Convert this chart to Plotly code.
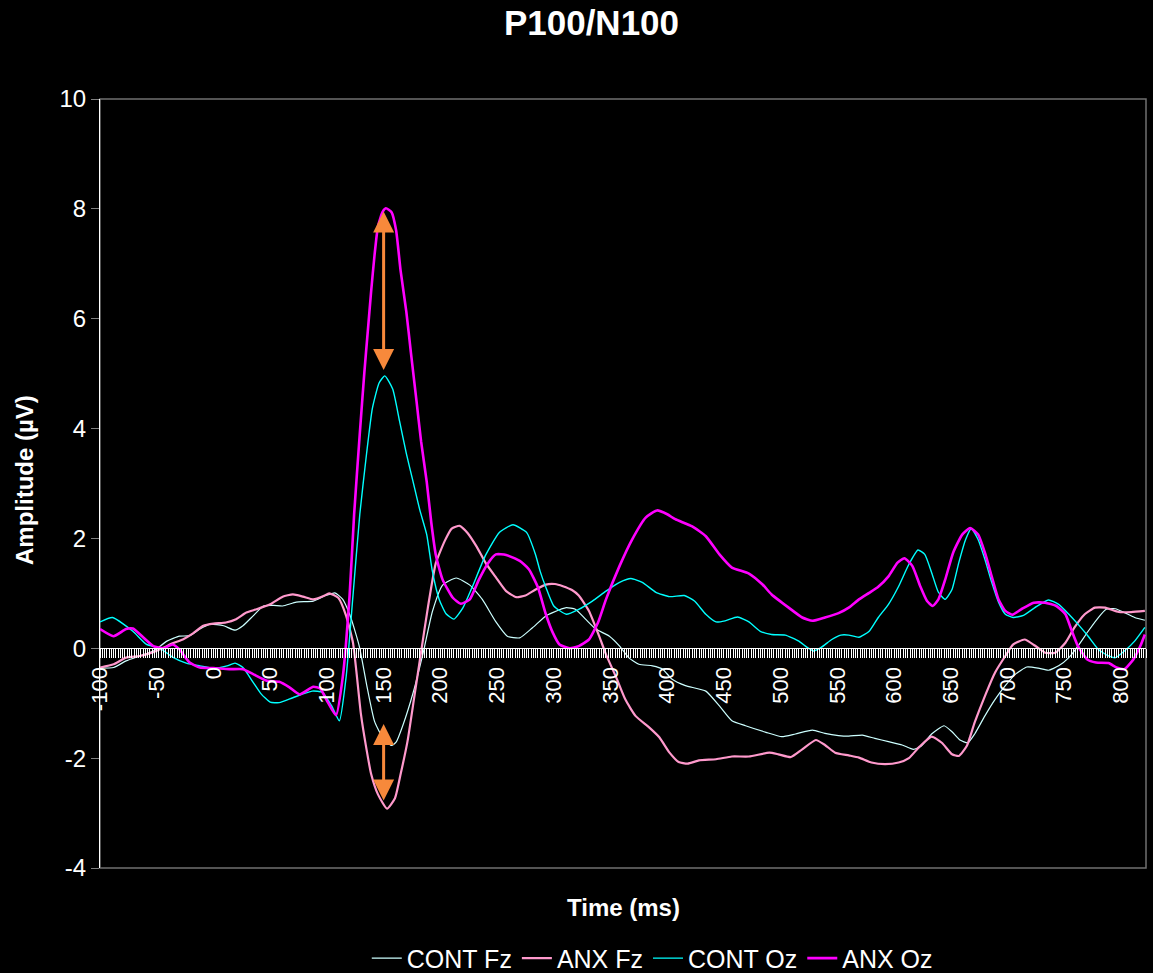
import plotly.graph_objects as go

# ---------------- data ----------------
cont_fz_t = [-100, -88, -77, -65, -53, -41, -30, -21, -12, -3, 9, 19, 26, 35, 44, 53, 61, 73, 88, 99, 107, 114, 120, 125, 129, 135, 142, 149, 157, 161, 167, 176, 185, 193, 202, 214, 226, 237, 249, 259, 270, 281, 293, 299, 311, 319, 328, 337, 349, 358, 366, 375, 387, 396, 404, 416, 434, 446, 457, 469, 487, 501, 513, 528, 539, 551, 560, 572, 583, 595, 607, 617, 624, 633, 644, 651, 658, 665, 671, 680, 689, 698, 707, 717, 727, 736, 745, 754, 762, 771, 780, 787, 795, 803, 812, 821]
cont_fz_v = [-0.36, -0.35, -0.23, -0.14, -0.05, 0.13, 0.22, 0.23, 0.35, 0.44, 0.41, 0.33, 0.41, 0.59, 0.77, 0.78, 0.77, 0.84, 0.86, 0.96, 1.01, 0.89, 0.62, 0.3, 0.0, -0.66, -1.33, -1.62, -1.77, -1.71, -1.4, -0.81, -0.07, 0.67, 1.15, 1.28, 1.15, 0.89, 0.48, 0.22, 0.19, 0.37, 0.59, 0.65, 0.74, 0.71, 0.53, 0.35, 0.22, 0.04, -0.17, -0.29, -0.32, -0.38, -0.56, -0.68, -0.78, -1.05, -1.32, -1.41, -1.53, -1.61, -1.56, -1.49, -1.55, -1.59, -1.6, -1.58, -1.64, -1.70, -1.76, -1.84, -1.78, -1.56, -1.41, -1.52, -1.67, -1.72, -1.56, -1.23, -0.93, -0.68, -0.47, -0.34, -0.36, -0.4, -0.32, -0.17, 0.04, 0.31, 0.56, 0.71, 0.72, 0.65, 0.56, 0.51]

anx_fz_t = [-100, -88, -77, -65, -53, -44, -36, -27, -18, -9, 0, 11, 20, 29, 38, 50, 61, 70, 79, 88, 97, 102, 110, 117, 123, 126, 130, 135, 139, 145, 153, 160, 165, 171, 177, 183, 189, 196, 204, 210, 217, 224, 232, 240, 249, 258, 267, 275, 284, 293, 301, 308, 316, 322, 331, 340, 346, 355, 363, 372, 384, 393, 402, 410, 418, 428, 443, 457, 472, 490, 498, 509, 519, 531, 539, 548, 560, 569, 580, 592, 604, 613, 622, 633, 642, 651, 657, 664, 671, 680, 689, 698, 705, 715, 724, 733, 742, 751, 759, 768, 777, 786, 798, 809, 821]
anx_fz_v = [-0.35, -0.29, -0.17, -0.14, -0.07, 0.01, 0.09, 0.16, 0.27, 0.41, 0.45, 0.47, 0.53, 0.65, 0.71, 0.8, 0.94, 0.98, 0.94, 0.89, 0.95, 1.0, 0.92, 0.59, 0.1, -0.42, -1.2, -1.85, -2.29, -2.66, -2.92, -2.73, -2.29, -1.7, -0.89, -0.07, 0.74, 1.55, 1.96, 2.18, 2.23, 2.1, 1.85, 1.55, 1.29, 1.04, 0.93, 0.96, 1.07, 1.16, 1.17, 1.13, 1.06, 0.96, 0.68, 0.22, -0.11, -0.53, -0.93, -1.23, -1.44, -1.62, -1.9, -2.07, -2.1, -2.04, -2.02, -1.97, -1.97, -1.9, -1.93, -1.98, -1.84, -1.67, -1.76, -1.9, -1.95, -1.99, -2.08, -2.11, -2.08, -2.0, -1.8, -1.61, -1.72, -1.93, -1.96, -1.78, -1.35, -0.87, -0.44, -0.14, 0.07, 0.16, 0.05, -0.08, -0.08, 0.1, 0.38, 0.62, 0.74, 0.74, 0.66, 0.66, 0.68]

cont_oz_t = [-100, -89, -71, -59, -47, -36, -24, -12, 0, 12, 19, 26, 35, 42, 50, 58, 70, 87, 96, 104, 111, 117, 123, 129, 135, 140, 146, 151, 158, 164, 170, 176, 182, 188, 193, 199, 205, 212, 220, 228, 240, 252, 264, 276, 284, 288, 293, 300, 311, 322, 334, 346, 358, 368, 378, 390, 402, 415, 424, 434, 443, 451, 462, 472, 482, 492, 504, 516, 523, 529, 536, 545, 553, 560, 569, 578, 586, 595, 604, 613, 621, 627, 633, 639, 645, 651, 657, 663, 668, 674, 680, 686, 692, 698, 705, 714, 724, 736, 745, 754, 762, 771, 780, 789, 795, 803, 812, 821]
cont_oz_v = [0.48, 0.56, 0.31, 0.07, 0.0, -0.16, -0.27, -0.32, -0.36, -0.32, -0.27, -0.35, -0.62, -0.83, -0.98, -0.99, -0.9, -0.78, -0.8, -1.04, -1.32, -0.51, 0.96, 2.44, 3.55, 4.36, 4.83, 4.96, 4.72, 4.14, 3.55, 3.03, 2.51, 2.07, 1.4, 0.89, 0.63, 0.53, 0.74, 1.11, 1.70, 2.11, 2.25, 2.11, 1.70, 1.4, 1.11, 0.77, 0.62, 0.71, 0.86, 1.04, 1.2, 1.27, 1.2, 1.02, 0.94, 0.96, 0.86, 0.62, 0.48, 0.5, 0.57, 0.48, 0.31, 0.25, 0.24, 0.13, 0.02, -0.05, 0.02, 0.16, 0.24, 0.24, 0.2, 0.31, 0.56, 0.8, 1.13, 1.53, 1.79, 1.71, 1.38, 1.02, 0.89, 1.07, 1.56, 1.98, 2.18, 1.98, 1.62, 1.2, 0.84, 0.62, 0.56, 0.6, 0.74, 0.88, 0.8, 0.62, 0.44, 0.22, -0.02, -0.14, -0.17, -0.05, 0.13, 0.38]

anx_oz_t = [-100, -88, -77, -71, -62, -53, -44, -36, -30, -21, -12, 0, 14, 26, 35, 47, 58, 67, 76, 88, 94, 101, 108, 114, 120, 124, 129, 133, 136, 139, 142, 145, 149, 152, 157, 161, 165, 170, 174, 179, 183, 188, 192, 196, 202, 211, 218, 226, 234, 242, 249, 258, 270, 278, 286, 293, 299, 305, 314, 322, 331, 339, 346, 358, 369, 381, 391, 400, 407, 422, 434, 446, 457, 472, 484, 492, 507, 519, 528, 539, 551, 560, 569, 578, 586, 595, 603, 609, 616, 623, 629, 634, 639, 645, 652, 660, 667, 674, 680, 686, 692, 698, 704, 712, 723, 733, 743, 751, 756, 762, 770, 778, 789, 796, 803, 811, 817, 821]
anx_oz_v = [0.35, 0.22, 0.35, 0.36, 0.2, 0.04, 0.0, 0.07, -0.02, -0.26, -0.35, -0.36, -0.38, -0.38, -0.47, -0.59, -0.61, -0.71, -0.84, -0.7, -0.73, -0.99, -1.22, -0.52, 0.96, 2.44, 3.91, 5.02, 5.76, 6.5, 7.16, 7.68, 7.94, 8.01, 7.94, 7.61, 6.87, 6.13, 5.39, 4.5, 3.77, 3.03, 2.29, 1.70, 1.25, 0.92, 0.81, 0.89, 1.25, 1.55, 1.71, 1.70, 1.59, 1.44, 1.11, 0.62, 0.29, 0.07, 0.0, 0.04, 0.16, 0.47, 0.89, 1.5, 1.98, 2.38, 2.51, 2.44, 2.35, 2.22, 2.04, 1.71, 1.47, 1.36, 1.16, 0.98, 0.74, 0.56, 0.5, 0.56, 0.64, 0.74, 0.89, 1.01, 1.12, 1.31, 1.56, 1.64, 1.5, 1.13, 0.86, 0.77, 0.89, 1.25, 1.74, 2.07, 2.19, 2.07, 1.74, 1.31, 0.89, 0.68, 0.61, 0.71, 0.83, 0.83, 0.77, 0.62, 0.35, 0.04, -0.2, -0.26, -0.27, -0.35, -0.38, -0.2, 0.04, 0.25]

series_names = ["CONT Fz", "ANX Fz", "CONT Oz", "ANX Oz"]

# arrows: (time, from amplitude, to amplitude)
arrow_t = [150, 150]
arrow_top = [7.95, -1.38]
arrow_bottom = [5.04, -2.80]

x_tick_vals = list(range(-100, 801, 50))
x_tick_text = [str(v) for v in x_tick_vals]
y_tick_vals = [-4, -2, 0, 2, 4, 6, 8, 10]
y_tick_text = [str(v) for v in y_tick_vals]

# ---------------- styling ----------------
FONT = "Liberation Sans, Arial, sans-serif"
colors = ["#CCFFFF", "#FF99CC", "#00FFFF", "#FF00FF"]
widths = [1.2, 2.2, 1.4, 2.6]
arrow_color = "#F7893B"

fig = go.Figure()
for name, t, v, c, w in zip(series_names,
                            [cont_fz_t, anx_fz_t, cont_oz_t, anx_oz_t],
                            [cont_fz_v, anx_fz_v, cont_oz_v, anx_oz_v],
                            colors, widths):
    fig.add_trace(go.Scatter(x=t, y=v, mode="lines", name=name,
                             line=dict(color=c, width=w, shape="spline", smoothing=0.5)))

y_min, y_max = -4, 10
zero_pos = (0 - y_min) / (y_max - y_min)

fig.update_layout(
    width=1153, height=973,
    paper_bgcolor="black", plot_bgcolor="black",
    margin=dict(l=100, r=7, t=99, b=105, autoexpand=False),
    font=dict(family=FONT, color="white", size=22),
    title=dict(text="P100/N100", x=0.513, xanchor="center", y=0.977, yanchor="middle",
               font=dict(family=FONT, size=35, color="white", weight="bold")),
    showlegend=True,
    legend=dict(orientation="h", x=0.528, xanchor="center", y=-0.1175, yanchor="middle",
                font=dict(family=FONT, size=25, color="white"),
                bgcolor="rgba(0,0,0,0)", itemwidth=30, tracegroupgap=0),
    xaxis=dict(range=[-100, 822], anchor="free", position=zero_pos,
               showline=True, linecolor="white", linewidth=1,
               showgrid=False, zeroline=False,
               tickmode="array", tickvals=x_tick_vals, ticktext=x_tick_text,
               ticks="outside", ticklen=9, tickcolor="white", tickwidth=1,
               tickangle=-90, tickfont=dict(family=FONT, size=22, color="white"),
               minor=dict(tickmode="linear", tick0=-100, dtick=2, ticks="outside",
                          ticklen=9, tickcolor="white", tickwidth=1, showgrid=False)),
    yaxis=dict(range=[y_min, y_max], showline=True, linecolor="white", linewidth=1,
               showgrid=False, zeroline=False,
               tickmode="array", tickvals=y_tick_vals, ticktext=y_tick_text,
               ticks="outside", ticklen=8, tickcolor="#808080",
               tickfont=dict(family=FONT, size=24, color="white")),
    shapes=[dict(type="rect", xref="paper", yref="paper", x0=0, x1=1, y0=0, y1=1,
                 line=dict(color="#707070", width=1.5), layer="below")],
)

annotations = [
    dict(text="Time (ms)", xref="paper", yref="paper", x=0.5, y=-0.052,
         xanchor="center", yanchor="middle", showarrow=False,
         font=dict(family=FONT, size=24, color="white", weight="bold")),
    dict(text="Amplitude (µV)", xref="paper", yref="paper", x=-0.0717, y=0.5046,
         xanchor="center", yanchor="middle", showarrow=False, textangle=-90,
         font=dict(family=FONT, size=24, color="white", weight="bold")),
]
for t, a, b in zip(arrow_t, arrow_top, arrow_bottom):
    annotations.append(dict(x=t, y=a, ax=t, ay=b, xref="x", yref="y", axref="x", ayref="y",
                            text="", showarrow=True, arrowhead=2, arrowsize=1.4,
                            startarrowhead=2, startarrowsize=1.4, arrowside="end+start",
                            arrowwidth=3, arrowcolor=arrow_color, standoff=0, startstandoff=0))
fig.update_layout(annotations=annotations)

fig.write_html("out.html", config={"displayModeBar": False},
               post_script="document.body.style.margin='0px';document.body.style.background='black';")
